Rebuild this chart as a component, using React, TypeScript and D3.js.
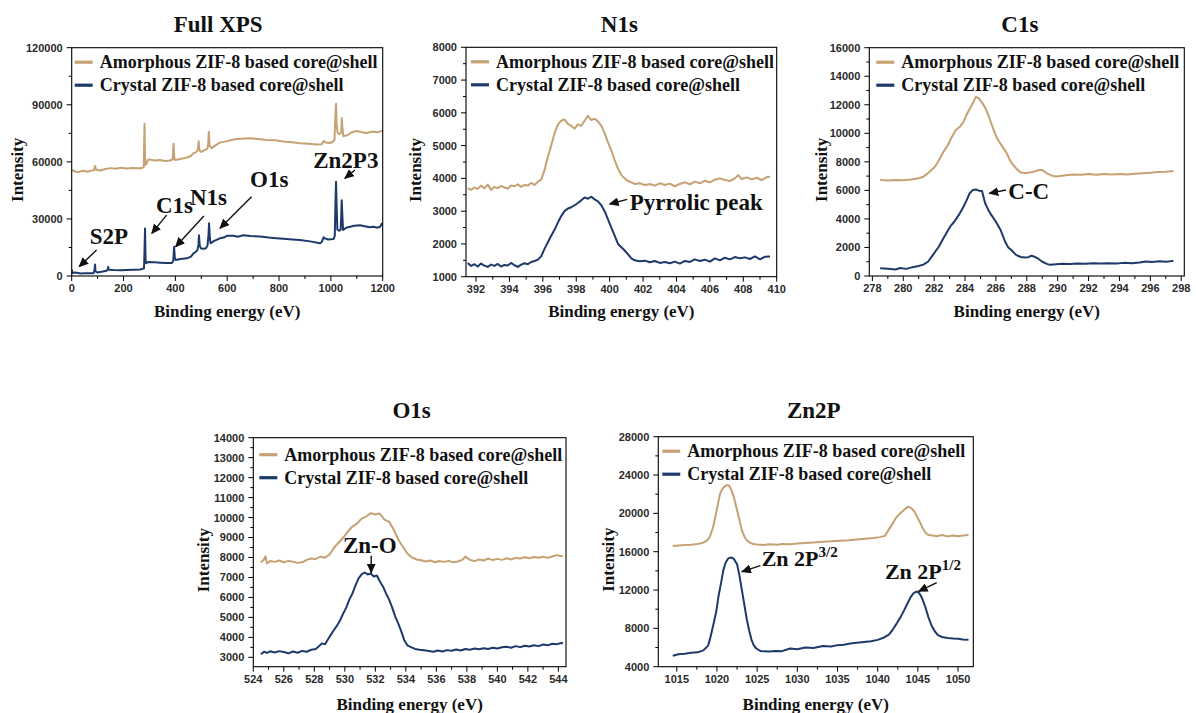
import React from 'react';
import * as d3 from 'd3';

type Pt = [number, number];

const SERIES_NAMES = ['Amorphous ZIF-8 based core@shell', 'Crystal ZIF-8 based core@shell'];
const TITLES = ['Full XPS', 'N1s', 'C1s', 'O1s', 'Zn2P'];
const X_LABEL = 'Binding energy (eV)';
const Y_LABEL = 'Intensity';

// ---- Full survey spectra (eV, counts) ----
const surveyAmorphous: Pt[] = [
  [0, 55700], [10, 55200], [20, 54600], [32, 54900], [45, 55300], [60, 54800], [77, 55400], [86, 55600],
  [90, 57800], [94, 55900], [110, 55500], [130, 56200], [148, 56700], [170, 56400], [190, 56900], [212, 56500],
  [235, 56800], [255, 56600], [270, 56700], [278, 57200], [281, 80000], [283, 62000], [286, 58500], [296, 61300],
  [320, 60700], [341, 61000], [360, 60400], [379, 60700], [390, 61200], [393, 69500], [396, 62000], [399, 61000],
  [420, 61500], [444, 62300], [460, 63100], [470, 64600], [480, 65000], [487, 66500], [490, 70800], [493, 66000],
  [500, 65200], [512, 66200], [521, 66700], [526, 68000], [529, 75800], [532, 68500], [540, 67200], [556, 68800],
  [572, 70100], [600, 70900], [624, 71700], [650, 72200], [688, 72400], [720, 72000], [752, 71500], [785, 71300],
  [817, 70700], [850, 70300], [881, 69800], [915, 69500], [945, 69100], [965, 69300], [972, 71000], [980, 70200],
  [995, 69900], [1005, 70300], [1014, 71500], [1018, 86000], [1020, 90500], [1022, 80000], [1026, 75200],
  [1034, 74600], [1040, 75500], [1042, 83000], [1044, 79000], [1048, 73500], [1058, 73800], [1067, 74200],
  [1080, 75600], [1100, 76200], [1120, 75600], [1138, 75200], [1160, 75900], [1177, 75600], [1190, 76000], [1200, 76400],
];
const surveyCrystal: Pt[] = [
  [0, 3500], [3, 1500], [12, 1800], [20, 1700], [35, 1300], [50, 1500], [70, 1400], [84, 1500], [88, 3000],
  [90, 6000], [92, 2500], [99, 1800], [115, 2200], [135, 2800], [139, 3400], [141, 4800], [143, 3300], [160, 3100],
  [190, 3000], [212, 3200], [240, 3300], [264, 3400], [279, 4000], [281, 14000], [283, 25000], [285, 9000],
  [287, 6700], [296, 7400], [320, 7200], [341, 7000], [365, 6800], [386, 6800], [392, 8000], [395, 15400],
  [398, 9500], [401, 8400], [420, 8900], [444, 9300], [460, 10200], [470, 11900], [478, 12600], [485, 13600],
  [489, 16000], [491, 21400], [494, 16000], [499, 14500], [510, 14300], [518, 14600], [524, 16000], [528, 22000],
  [530, 27700], [533, 20000], [536, 17200], [550, 18500], [572, 19800], [590, 20400], [600, 21200], [624, 21200],
  [640, 20600], [662, 21400], [690, 21000], [727, 20700], [760, 20200], [790, 19900], [817, 19600], [850, 19200],
  [881, 18900], [920, 18200], [958, 17200], [965, 17900], [972, 20300], [977, 19800], [990, 19200], [1010, 19400],
  [1015, 21000], [1018, 40000], [1020, 49500], [1022, 38000], [1025, 24500], [1032, 23800], [1038, 24500],
  [1040, 32000], [1042, 39800], [1044, 33000], [1047, 24200], [1060, 25400], [1074, 25900], [1090, 26400],
  [1113, 26700], [1130, 26200], [1150, 25600], [1164, 25900], [1180, 25400], [1190, 25900], [1196, 27500], [1200, 26800],
];

// ---- N 1s region ----
const n1sAmorphous: Pt[] = [
  [391.5, 3700], [391.7, 3650], [391.9, 3720], [392.1, 3680], [392.3, 3780], [392.5, 3700], [392.7, 3810],
  [392.9, 3650], [393.1, 3740], [393.3, 3700], [393.5, 3770], [393.7, 3720], [393.9, 3690], [394.1, 3780],
  [394.3, 3760], [394.5, 3820], [394.7, 3740], [394.9, 3800], [395.1, 3780], [395.3, 3860], [395.5, 3800],
  [395.7, 3900], [395.9, 3960], [396.1, 4250], [396.3, 4650], [396.5, 5000], [396.7, 5380], [396.9, 5650],
  [397.1, 5760], [397.3, 5800], [397.5, 5660], [397.7, 5600], [397.9, 5520], [398.1, 5650], [398.3, 5600],
  [398.5, 5760], [398.7, 5910], [398.9, 5780], [399.1, 5820], [399.3, 5740], [399.5, 5600], [399.7, 5380],
  [399.9, 5100], [400.1, 4850], [400.3, 4560], [400.5, 4300], [400.7, 4100], [400.9, 4000], [401.1, 3920],
  [401.3, 3880], [401.5, 3830], [401.8, 3850], [402.1, 3800], [402.4, 3830], [402.7, 3780], [403.0, 3850],
  [403.3, 3800], [403.6, 3840], [403.9, 3760], [404.2, 3830], [404.5, 3880], [404.8, 3820], [405.1, 3900],
  [405.4, 3850], [405.7, 3930], [406.0, 3880], [406.3, 3960], [406.6, 4000], [406.9, 3950], [407.2, 3920],
  [407.5, 4000], [407.7, 4100], [407.9, 3980], [408.2, 4030], [408.5, 3970], [408.8, 4020], [409.1, 3950],
  [409.4, 4040], [409.6, 4050],
];
const n1sCrystal: Pt[] = [
  [391.5, 1420], [391.7, 1330], [391.9, 1380], [392.1, 1310], [392.3, 1400], [392.5, 1340], [392.7, 1300],
  [392.9, 1370], [393.1, 1330], [393.3, 1390], [393.5, 1310], [393.7, 1360], [393.9, 1340], [394.1, 1420],
  [394.3, 1350], [394.5, 1300], [394.7, 1370], [394.9, 1410], [395.1, 1380], [395.3, 1450], [395.5, 1480],
  [395.7, 1520], [395.9, 1620], [396.1, 1850], [396.3, 2050], [396.5, 2250], [396.7, 2430], [396.9, 2650],
  [397.1, 2850], [397.3, 3000], [397.5, 3080], [397.7, 3120], [397.9, 3180], [398.1, 3250], [398.3, 3330],
  [398.5, 3420], [398.7, 3380], [398.9, 3440], [399.1, 3360], [399.3, 3300], [399.5, 3180], [399.7, 3000],
  [399.9, 2750], [400.1, 2500], [400.3, 2250], [400.5, 2000], [400.7, 1900], [400.9, 1800], [401.1, 1680],
  [401.3, 1560], [401.5, 1500], [401.8, 1470], [402.1, 1490], [402.4, 1440], [402.7, 1480], [403.0, 1420],
  [403.3, 1450], [403.6, 1410], [403.9, 1460], [404.2, 1400], [404.5, 1480], [404.8, 1450], [405.1, 1530],
  [405.4, 1480], [405.7, 1520], [406.0, 1460], [406.3, 1560], [406.6, 1500], [406.9, 1580], [407.2, 1530],
  [407.5, 1600], [407.8, 1560], [408.1, 1590], [408.4, 1540], [408.7, 1620], [409.0, 1530], [409.3, 1610],
  [409.6, 1620],
];

// ---- C 1s region ----
const c1sAmorphous: Pt[] = [
  [278.5, 6720], [279.0, 6700], [279.5, 6730], [280.0, 6710], [280.5, 6760], [281.0, 6850], [281.3, 6960],
  [281.5, 7120], [281.7, 7310], [282.0, 7600], [282.2, 7900], [282.4, 8300], [282.6, 8700], [282.9, 9200],
  [283.1, 9650], [283.4, 10230], [283.7, 10500], [283.9, 10800], [284.1, 11300], [284.3, 11700], [284.5, 12100],
  [284.7, 12550], [284.9, 12450], [285.1, 12150], [285.3, 11800], [285.5, 11300], [285.7, 10700], [285.9, 10100],
  [286.1, 9600], [286.4, 9100], [286.7, 8600], [286.9, 8130], [287.1, 7800], [287.3, 7550], [287.6, 7250],
  [287.9, 7220], [288.2, 7250], [288.5, 7330], [288.8, 7430], [289.0, 7430], [289.3, 7190], [289.6, 7050],
  [289.9, 6980], [290.4, 7050], [291.0, 7120], [291.5, 7100], [292.0, 7150], [292.5, 7100], [293.0, 7140],
  [293.5, 7110], [294.0, 7150], [294.5, 7120], [295.0, 7170], [295.5, 7200], [296.0, 7230], [296.5, 7290],
  [297.0, 7300], [297.5, 7360],
];
const c1sCrystal: Pt[] = [
  [278.5, 540], [279.0, 500], [279.5, 460], [279.8, 560], [280.2, 500], [280.6, 620], [281.0, 700], [281.3, 800],
  [281.6, 1000], [281.9, 1450], [282.1, 1750], [282.3, 2050], [282.6, 2650], [282.9, 3200], [283.1, 3550],
  [283.3, 3800], [283.6, 4280], [283.9, 4850], [284.1, 5300], [284.3, 5800], [284.5, 6020], [284.7, 6060],
  [284.9, 5980], [285.1, 5950], [285.3, 5100], [285.5, 4650], [285.7, 4280], [286.0, 3800], [286.3, 3230],
  [286.6, 2400], [286.8, 2000], [287.0, 1820], [287.3, 1480], [287.6, 1330], [287.9, 1300], [288.1, 1320],
  [288.3, 1420], [288.5, 1350], [288.7, 1240], [289.0, 1000], [289.3, 850], [289.5, 780], [289.9, 820],
  [290.3, 850], [290.8, 840], [291.3, 880], [291.8, 860], [292.3, 900], [292.8, 880], [293.3, 900], [293.8, 870],
  [294.3, 920], [294.8, 900], [295.3, 950], [295.7, 1020], [296.1, 980], [296.6, 1030], [297.0, 1000], [297.5, 1060],
];

// ---- O 1s region ----
const o1sAmorphous: Pt[] = [
  [524.5, 7750], [524.7, 7900], [524.8, 8060], [524.9, 7700], [525.1, 7820], [525.4, 7780], [525.7, 7850],
  [526.0, 7760], [526.3, 7830], [526.6, 7790], [526.9, 7730], [527.2, 7760], [527.5, 7880], [527.8, 7950],
  [528.1, 7930], [528.4, 8040], [528.7, 7990], [529.0, 8150], [529.3, 8500], [529.6, 8750], [529.9, 9000],
  [530.2, 9300], [530.5, 9550], [530.8, 9700], [531.1, 9950], [531.4, 10050], [531.7, 10220], [532.0, 10150],
  [532.3, 10200], [532.6, 9900], [532.9, 9800], [533.2, 9400], [533.5, 8900], [533.8, 8550], [534.1, 8200],
  [534.4, 8000], [534.7, 7900], [535.0, 7860], [535.3, 7800], [535.6, 7850], [535.9, 7760], [536.2, 7820],
  [536.5, 7780], [536.8, 7830], [537.1, 7760], [537.4, 7800], [537.7, 7880], [537.9, 8040], [538.2, 7880],
  [538.5, 7820], [538.8, 7900], [539.1, 7850], [539.4, 7950], [539.7, 7870], [540.0, 7930], [540.3, 7880],
  [540.6, 7960], [540.9, 7900], [541.2, 7980], [541.5, 7950], [541.8, 8010], [542.1, 7960], [542.4, 8020],
  [542.7, 7990], [543.0, 8040], [543.3, 7980], [543.6, 8050], [543.9, 8120], [544.2, 8060], [544.3, 8080],
];
const o1sCrystal: Pt[] = [
  [524.5, 3150], [524.7, 3280], [524.9, 3220], [525.1, 3300], [525.4, 3240], [525.7, 3310], [526.0, 3270],
  [526.3, 3200], [526.6, 3290], [526.9, 3230], [527.2, 3320], [527.5, 3280], [527.8, 3380], [528.1, 3420],
  [528.3, 3550], [528.5, 3700], [528.7, 3650], [528.9, 3900], [529.1, 4150], [529.3, 4380], [529.5, 4600],
  [529.7, 4870], [529.9, 5200], [530.1, 5500], [530.3, 5900], [530.5, 6200], [530.7, 6600], [530.9, 6950],
  [531.1, 7150], [531.3, 7250], [531.5, 7150], [531.7, 7200], [531.9, 7050], [532.1, 7100], [532.3, 6800],
  [532.5, 6550], [532.7, 6200], [532.9, 5900], [533.1, 5500], [533.3, 5050], [533.5, 4700], [533.7, 4300],
  [533.9, 3850], [534.1, 3600], [534.3, 3520], [534.6, 3420], [534.9, 3380], [535.2, 3350], [535.5, 3320],
  [535.8, 3280], [536.1, 3340], [536.4, 3290], [536.7, 3360], [537.0, 3330], [537.3, 3390], [537.6, 3340],
  [537.9, 3420], [538.2, 3380], [538.5, 3440], [538.8, 3400], [539.1, 3450], [539.4, 3420], [539.7, 3480],
  [540.0, 3440], [540.3, 3500], [540.6, 3530], [540.9, 3480], [541.2, 3560], [541.5, 3510], [541.8, 3580],
  [542.1, 3540], [542.4, 3600], [542.7, 3560], [543.0, 3640], [543.3, 3600], [543.6, 3680], [543.9, 3660],
  [544.2, 3720], [544.3, 3700],
];

// ---- Zn 2p region ----
const zn2pAmorphous: Pt[] = [
  [1014.5, 16600], [1015.2, 16650], [1016.0, 16700], [1016.8, 16720], [1017.6, 16800], [1018.3, 16950],
  [1018.8, 17200], [1019.1, 17550], [1019.5, 18500], [1019.8, 19650], [1020.1, 20900], [1020.4, 22100],
  [1020.8, 22700], [1021.2, 22950], [1021.5, 22900], [1021.8, 22450], [1022.1, 21700], [1022.5, 20350],
  [1022.8, 19300], [1023.1, 18250], [1023.4, 17600], [1023.7, 17200], [1024.1, 16950], [1024.5, 16800],
  [1025.0, 16750], [1025.8, 16700], [1026.6, 16780], [1027.4, 16720], [1028.2, 16800], [1029.1, 16780],
  [1030.0, 16850], [1031.0, 16900], [1032.0, 16950], [1033.2, 17050], [1034.2, 17080], [1035.3, 17150],
  [1036.4, 17200], [1037.4, 17280], [1038.4, 17350], [1039.5, 17420], [1040.3, 17520], [1040.9, 17650],
  [1041.3, 18200], [1041.8, 18850], [1042.2, 19450], [1042.6, 19850], [1043.0, 20150], [1043.4, 20450],
  [1043.8, 20700], [1044.2, 20550], [1044.6, 20150], [1044.9, 19650], [1045.3, 19000], [1045.7, 18300],
  [1046.0, 17950], [1046.3, 17750], [1046.8, 17700], [1047.3, 17620], [1048.0, 17750], [1048.7, 17600],
  [1049.4, 17680], [1050.0, 17620], [1050.6, 17700], [1051.3, 17750],
];
const zn2pCrystal: Pt[] = [
  [1014.5, 5150], [1015.2, 5300], [1016.0, 5350], [1016.8, 5450], [1017.6, 5500], [1018.3, 5700],
  [1018.9, 6200], [1019.2, 7100], [1019.5, 8200], [1019.9, 9700], [1020.2, 11400], [1020.5, 12700],
  [1020.8, 14100], [1021.1, 14900], [1021.4, 15300], [1021.8, 15400], [1022.1, 15250], [1022.5, 14700],
  [1022.8, 13500], [1023.1, 12000], [1023.4, 10500], [1023.7, 9000], [1024.0, 7800], [1024.3, 6800],
  [1024.6, 6200], [1024.9, 5900], [1025.4, 5650], [1025.8, 5600], [1026.5, 5580], [1027.3, 5650],
  [1028.1, 5620], [1029.1, 5900], [1030.0, 5820], [1031.0, 6000], [1032.0, 5950], [1033.2, 6150],
  [1034.2, 6100], [1035.0, 6250], [1035.8, 6300], [1036.6, 6420], [1037.4, 6500], [1038.3, 6580],
  [1039.2, 6650], [1040.0, 6800], [1040.8, 7050], [1041.4, 7350], [1041.9, 7900], [1042.4, 8550],
  [1042.9, 9250], [1043.3, 9900], [1043.7, 10600], [1044.1, 11250], [1044.5, 11700], [1044.9, 11850],
  [1045.2, 11650], [1045.5, 11200], [1045.9, 10300], [1046.3, 9200], [1046.7, 8300], [1047.1, 7700],
  [1047.5, 7300], [1048.0, 7100], [1048.7, 7000], [1049.4, 6950], [1050.0, 6920], [1050.6, 6850],
  [1051.3, 6800],
];

// ---- Tick values ----
const surveyXTicks = [0, 200, 400, 600, 800, 1000, 1200];
const surveyYTicks = [0, 30000, 60000, 90000, 120000];
const n1sXTicks = [392, 394, 396, 398, 400, 402, 404, 406, 408, 410];
const n1sYTicks = [1000, 2000, 3000, 4000, 5000, 6000, 7000, 8000];
const c1sXTicks = [278, 280, 282, 284, 286, 288, 290, 292, 294, 296, 298];
const c1sYTicks = [0, 2000, 4000, 6000, 8000, 10000, 12000, 14000, 16000];
const o1sXTicks = [524, 526, 528, 530, 532, 534, 536, 538, 540, 542, 544];
const o1sYTicks = [3000, 4000, 5000, 6000, 7000, 8000, 9000, 10000, 11000, 12000, 13000, 14000];
const zn2pXTicks = [1015, 1020, 1025, 1030, 1035, 1040, 1045, 1050];
const zn2pYTicks = [4000, 8000, 12000, 16000, 20000, 24000, 28000];

// ---- Peak annotations (text anchor and arrow tail/head in data units) ----
type Note = { label: string; sup?: string; at: Pt; from: Pt; to: Pt; middle?: boolean };
const surveyNotes: Note[] = [
  { label: 'S2P', at: [70, 17000], from: [96, 13700], to: [29, 4900] },
  { label: 'C1s', at: [325, 33000], from: [366, 32000], to: [309, 22400] },
  { label: 'N1s', at: [456, 37300], from: [510, 31500], to: [401, 15400] },
  { label: 'O1s', at: [688, 46900], from: [694, 41700], to: [572, 25100] },
  { label: 'Zn2P3', at: [932, 56600], from: [1093, 55700], to: [1054, 51300] },
];
const n1sNotes: Note[] = [
  { label: 'Pyrrolic peak', at: [401.2, 3035], from: [401.05, 3360], to: [400.0, 3218] },
];
const c1sNotes: Note[] = [
  { label: 'C-C', at: [286.8, 5396], from: [286.65, 6027], to: [285.57, 5793] },
];
const o1sNotes: Note[] = [
  { label: 'Zn-O', at: [531.64, 8241], from: [531.73, 8091], to: [531.73, 7240], middle: true },
];
const zn2pNotes: Note[] = [
  { label: 'Zn 2P', sup: '3/2', at: [1025.56, 14504], from: [1025.4, 14540], to: [1023.1, 13913] },
  { label: 'Zn 2P', sup: '1/2', at: [1040.9, 13113], from: [1047.35, 12765], to: [1045.1, 11861] },
];

const TAN = '#c6a173';
const NAVY = '#1d3a6a';
const SERIF = '"Liberation Serif", "Times New Roman", serif';
const SANS = '"Liberation Sans", Arial, sans-serif';

type PanelCfg = {
  title: string;
  amorphous: Pt[];
  crystal: Pt[];
  notes: Note[];
  xDomain: [number, number];
  yDomain: [number, number];
  xTicks: number[];
  yTicks: number[];
  left: number; right: number; top: number; bottom: number;
  titleDx: number; titleY: number; xLabelDy: number; yLabelDx: number;
  legendDx: number; legendDy: number; noteSize: number;
};

const panels: PanelCfg[] = [
  {
    title: TITLES[0], amorphous: surveyAmorphous, crystal: surveyCrystal, notes: surveyNotes,
    xDomain: [0, 1200], yDomain: [0, 120000], xTicks: surveyXTicks, yTicks: surveyYTicks,
    left: 71.7, right: 382.7, top: 47.7, bottom: 276,
    titleDx: -9, titleY: 31.7, xLabelDy: 40.7, yLabelDx: -55, legendDx: -2, legendDy: 0, noteSize: 23,
  },
  {
    title: TITLES[1], amorphous: n1sAmorphous, crystal: n1sCrystal, notes: n1sNotes,
    xDomain: [391.4, 410], yDomain: [1000, 8000], xTicks: n1sXTicks, yTicks: n1sYTicks,
    left: 466, right: 776.7, top: 47.3, bottom: 276.7,
    titleDx: -2, titleY: 31.7, xLabelDy: 40, yLabelDx: -51, legendDx: 0, legendDy: 0, noteSize: 23,
  },
  {
    title: TITLES[2], amorphous: c1sAmorphous, crystal: c1sCrystal, notes: c1sNotes,
    xDomain: [277.8, 298.2], yDomain: [0, 16000], xTicks: c1sXTicks, yTicks: c1sYTicks,
    left: 869.3, right: 1184.3, top: 47.7, bottom: 276,
    titleDx: -7, titleY: 31.7, xLabelDy: 40.7, yLabelDx: -48, legendDx: 2, legendDy: 0, noteSize: 23,
  },
  {
    title: TITLES[3], amorphous: o1sAmorphous, crystal: o1sCrystal, notes: o1sNotes,
    xDomain: [524, 544.5], yDomain: [2530, 14000], xTicks: o1sXTicks, yTicks: o1sYTicks,
    left: 253.3, right: 566, top: 437.7, bottom: 666.7,
    titleDx: 2, titleY: 418, xLabelDy: 43.5, yLabelDx: -50, legendDx: 1, legendDy: 2.5, noteSize: 23,
  },
  {
    title: TITLES[4], amorphous: zn2pAmorphous, crystal: zn2pCrystal, notes: zn2pNotes,
    xDomain: [1012.7, 1051.9], yDomain: [4000, 28000], xTicks: zn2pXTicks, yTicks: zn2pYTicks,
    left: 658.3, right: 973.3, top: 436.7, bottom: 666.7,
    titleDx: -2, titleY: 418, xLabelDy: 43.5, yLabelDx: -50, legendDx: -1, legendDy: 0, noteSize: 22,
  },
];

// Half-step minor ticks between (and just outside) the major ticks, kept within the domain
function minorTicks(majors: number[], domain: [number, number]): number[] {
  const step = majors[1] - majors[0];
  const out: number[] = [];
  const lo = Math.min(domain[0], domain[1]);
  const hi = Math.max(domain[0], domain[1]);
  for (let i = -1; i < majors.length; i++) {
    const v = majors[0] + (i + 0.5) * step;
    if (v > lo && v < hi) out.push(v);
  }
  return out;
}

function Panel({ cfg, idx }: { cfg: PanelCfg; idx: number }) {
  const x = d3.scaleLinear().domain(cfg.xDomain).range([cfg.left, cfg.right]);
  const y = d3.scaleLinear().domain(cfg.yDomain).range([cfg.bottom, cfg.top]);
  const line = d3.line<Pt>().x((d) => x(d[0])).y((d) => y(d[1]));
  const clipId = `plot-clip-${idx}`;
  const cx = (cfg.left + cfg.right) / 2;
  const cy = (cfg.top + cfg.bottom) / 2;
  const lx = cfg.left + cfg.legendDx;
  const ly = cfg.top + cfg.legendDy;

  return (
    <g>
      <defs>
        <clipPath id={clipId}>
          <rect x={cfg.left} y={cfg.top} width={cfg.right - cfg.left} height={cfg.bottom - cfg.top} />
        </clipPath>
      </defs>

      <text x={cx + cfg.titleDx} y={cfg.titleY} textAnchor="middle" fontFamily={SERIF}
        fontWeight="bold" fontSize={23} fill="#111">{cfg.title}</text>

      {/* spectra */}
      <g clipPath={`url(#${clipId})`} fill="none" strokeWidth={2} strokeLinejoin="round">
        <path d={line(cfg.amorphous) || ''} stroke={TAN} />
        <path d={line(cfg.crystal) || ''} stroke={NAVY} />
      </g>

      {/* frame */}
      <rect x={cfg.left} y={cfg.top} width={cfg.right - cfg.left} height={cfg.bottom - cfg.top}
        fill="none" stroke="#000" strokeWidth={1.1} />

      {/* y axis ticks */}
      {cfg.yTicks.map((t) => (
        <g key={`yt${t}`}>
          <line x1={cfg.left - 5} x2={cfg.left} y1={y(t)} y2={y(t)} stroke="#000" strokeWidth={1} />
          <text x={cfg.left - 9} y={y(t)} dy="0.36em" textAnchor="end" fontFamily={SANS}
            fontWeight="bold" fontSize={11} fill="#2a2a2a">{t}</text>
        </g>
      ))}
      {minorTicks(cfg.yTicks, cfg.yDomain).map((t) => (
        <line key={`ym${t}`} x1={cfg.left - 3} x2={cfg.left} y1={y(t)} y2={y(t)} stroke="#000" strokeWidth={1} />
      ))}

      {/* x axis ticks */}
      {cfg.xTicks.map((t) => (
        <g key={`xt${t}`}>
          <line x1={x(t)} x2={x(t)} y1={cfg.bottom} y2={cfg.bottom + 5} stroke="#000" strokeWidth={1} />
          <text x={x(t)} y={cfg.bottom + 16} textAnchor="middle" fontFamily={SANS}
            fontWeight="bold" fontSize={11} fill="#2a2a2a">{t}</text>
        </g>
      ))}
      {minorTicks(cfg.xTicks, cfg.xDomain).map((t) => (
        <line key={`xm${t}`} x1={x(t)} x2={x(t)} y1={cfg.bottom} y2={cfg.bottom + 3} stroke="#000" strokeWidth={1} />
      ))}

      {/* axis titles */}
      <text x={cx} y={cfg.bottom + cfg.xLabelDy} textAnchor="middle" fontFamily={SERIF}
        fontWeight="bold" fontSize={17} fill="#111">{X_LABEL}</text>
      <text transform={`translate(${cfg.left + cfg.yLabelDx},${cy + 8}) rotate(-90)`} textAnchor="middle"
        dy="0.35em" fontFamily={SERIF} fontWeight="bold" fontSize={17} fill="#111">{Y_LABEL}</text>

      {/* legend */}
      {[TAN, NAVY].map((c, i) => (
        <g key={`lg${i}`}>
          <line x1={lx + 5} x2={lx + 23} y1={ly + 14.5 + i * 23} y2={ly + 14.5 + i * 23} stroke={c} strokeWidth={3.2} />
          <text x={lx + 30} y={ly + 20.5 + i * 23} fontFamily={SERIF} fontWeight="bold" fontSize={18}
            fill="#111">{SERIES_NAMES[i]}</text>
        </g>
      ))}

      {/* peak labels */}
      {cfg.notes.map((n, i) => (
        <g key={`nt${i}`}>
          <line x1={x(n.from[0])} y1={y(n.from[1])} x2={x(n.to[0])} y2={y(n.to[1])}
            stroke="#111" strokeWidth={1.4} markerEnd="url(#arrowhead)" />
          <text x={x(n.at[0])} y={y(n.at[1])} textAnchor={n.middle ? 'middle' : 'start'} fontFamily={SERIF}
            fontWeight="bold" fontSize={cfg.noteSize} fill="#111">
            {n.label}
            {n.sup ? <tspan dy={-9} fontSize={15}>{n.sup}</tspan> : null}
          </text>
        </g>
      ))}
    </g>
  );
}

export default function App() {
  return (
    <svg width={1196} height={713} viewBox="0 0 1196 713"
      style={{ position: 'absolute', left: 0, top: 0, background: '#fff' }}>
      <defs>
        <marker id="arrowhead" markerUnits="userSpaceOnUse" markerWidth={10} markerHeight={9}
          refX={9} refY={4.5} orient="auto">
          <path d="M0,0 L10,4.5 L0,9 z" fill="#111" />
        </marker>
      </defs>
      <rect x={0} y={0} width={1196} height={713} fill="#fff" />
      {panels.map((p, i) => (
        <Panel key={p.title} cfg={p} idx={i} />
      ))}
    </svg>
  );
}
